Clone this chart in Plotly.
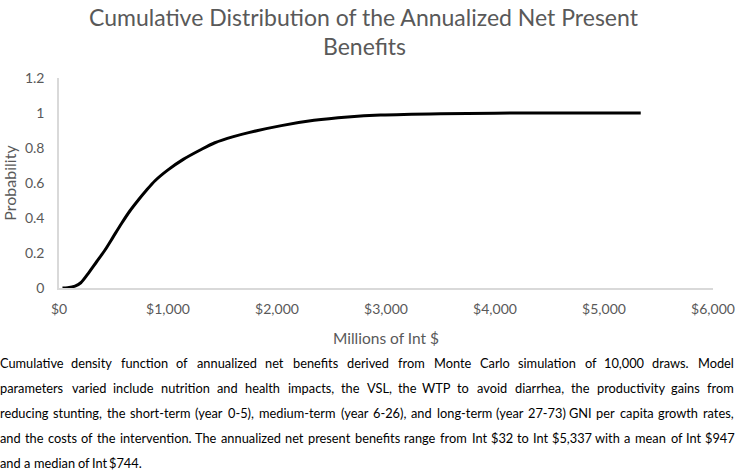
import plotly.graph_objects as go

# Data (Millions of Int $, cumulative probability)
benefits = [32, 80, 147, 200, 269, 345, 422, 500, 575, 650, 728, 800, 881, 1000,
            1140, 1300, 1430, 1600, 1740, 2040, 2340, 2650, 2950, 3500, 4000, 4500, 5000, 5337]
probability = [0.0, 0.002, 0.011, 0.03, 0.084, 0.15, 0.217, 0.295, 0.37, 0.44, 0.503, 0.557,
               0.613, 0.675, 0.735, 0.79, 0.83, 0.865, 0.888, 0.928, 0.958, 0.977, 0.988,
               0.996, 0.999, 1.0, 1.0, 1.0]
x_ticks = [0, 1000, 2000, 3000, 4000, 5000, 6000]
x_tick_labels = ["$0", "$1,000", "$2,000", "$3,000", "$4,000", "$5,000", "$6,000"]
y_ticks = [0, 0.2, 0.4, 0.6, 0.8, 1.0, 1.2]
y_tick_labels = ["0", "0.2", "0.4", "0.6", "0.8", "1", "1.2"]

title_lines = ["Cumulative Distribution of the Annualized Net Present", "Benefits"]
caption_lines = [
    "Cumulative density function of annualized net benefits derived from Monte Carlo simulation of 10,000 draws. Model",
    "parameters varied include nutrition and health impacts, the VSL, the WTP to avoid diarrhea, the productivity gains from",
    "reducing stunting, the short-term (year 0-5), medium-term (year 6-26), and long-term (year 27-73) GNI per capita growth rates,",
    "and the costs of the intervention. The annualized net present benefits range from Int $32 to Int $5,337 with a mean of Int $947",
    "and a median of Int $744.",
]
caption_justified = [True, True, True, True, False]

W, H = 735, 474
L, R, T, B = 59, 22, 78, 186
FONT = "Lato"
GREY = "#595959"

# approximate advance widths (em) of the reference's typeface, used to justify the caption
_EM = {' ': .226, 'a': .479, 'b': .525, 'c': .423, 'd': .525, 'e': .498, 'f': .305, 'g': .471,
       'h': .525, 'i': .229, 'j': .239, 'k': .455, 'l': .229, 'm': .799, 'n': .525, 'o': .527,
       'p': .525, 'q': .525, 'r': .349, 's': .391, 't': .335, 'u': .525, 'v': .452, 'w': .715,
       'x': .433, 'y': .453, 'z': .395, 'A': .579, 'B': .544, 'C': .533, 'D': .615, 'E': .488,
       'F': .459, 'G': .631, 'H': .623, 'I': .252, 'J': .319, 'K': .520, 'L': .420, 'M': .855,
       'N': .646, 'O': .662, 'P': .517, 'Q': .673, 'R': .543, 'S': .459, 'T': .487, 'U': .642,
       'V': .567, 'W': .890, 'X': .519, 'Y': .487, 'Z': .468, ',': .250, '.': .252, '(': .303,
       ')': .303, '-': .306, '$': .507}


def em_width(s):
    return sum(_EM.get(ch, .507) for ch in s)


def px_x(p):
    return (p - L) / (W - L - R)


def px_y(p):
    return (H - B - p) / (H - T - B)


fig = go.Figure()
fig.add_trace(go.Scatter(x=benefits, y=probability, mode="lines",
                         line=dict(color="black", width=3, shape="spline", smoothing=0.8),
                         hoverinfo="skip", showlegend=False))

fig.update_layout(
    width=W, height=H,
    margin=dict(l=L, r=R, t=T, b=B, autoexpand=False),
    paper_bgcolor="white", plot_bgcolor="white",
    font=dict(family=FONT, color=GREY),
    xaxis=dict(range=[0, 6000], tickvals=x_ticks, ticktext=x_tick_labels, automargin=False,
               showgrid=False, zeroline=False, showline=True, linecolor="#d9d9d9",
               linewidth=1.5, ticks="", ticklabelstandoff=7, tickfont=dict(size=14, color=GREY),
               title=dict(text="Millions of Int $", font=dict(size=15.5, color=GREY), standoff=18)),
    yaxis=dict(range=[0, 1.2], tickvals=y_ticks, ticktext=y_tick_labels, automargin=False,
               showgrid=False, zeroline=False, showline=True, linecolor="#d9d9d9",
               linewidth=1.5, ticks="", ticklabelstandoff=10, tickfont=dict(size=14, color=GREY),
               title=dict(text="Probability", font=dict(size=16, color=GREY), standoff=5)),
)

# title, two lines
for txt, yy in zip(title_lines, [17, 46]):
    fig.add_annotation(text=txt, xref="paper", yref="paper", x=px_x(364), y=px_y(yy),
                       xanchor="center", yanchor="middle", showarrow=False,
                       font=dict(family=FONT, size=23, color=GREY))

# caption: justified lines laid out word by word
FS_REF = 13.5
LEFT_EDGE, RIGHT_EDGE = 0.5, 734
line_y = [363, 388, 413, 438, 463]
for txt, yy, just in zip(caption_lines, line_y, caption_justified):
    words = txt.split(" ")
    widths = [em_width(w) * FS_REF for w in words]
    if just and len(words) > 1:
        gap = (RIGHT_EDGE - LEFT_EDGE - sum(widths)) / (len(words) - 1)
    else:
        gap = em_width(" ") * FS_REF
    cursor = LEFT_EDGE
    for w, wd in zip(words, widths):
        fig.add_annotation(text=w, xref="paper", yref="paper",
                           x=px_x(cursor + wd / 2), y=px_y(yy), xanchor="center", yanchor="middle",
                           showarrow=False, font=dict(family=FONT, size=12.8, color="black"))
        cursor += wd + gap

fig.write_html("out.html", config={"displayModeBar": False},
               post_script="document.body.style.margin='0';")
